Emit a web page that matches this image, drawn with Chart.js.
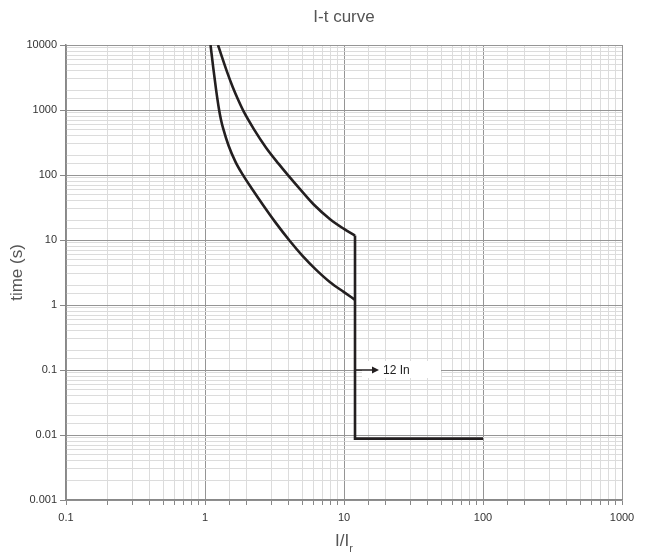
<!DOCTYPE html>
<html>
<head>
<meta charset="utf-8">
<script src="https://cdn.jsdelivr.net/npm/chart.js@4.4.1/dist/chart.umd.min.js"></script>
<style>
  html, body { margin: 0; padding: 0; background: #fff; }
  #wrap { width: 646px; height: 559px; position: relative; }
</style>
</head>
<body>
<div id="wrap"><canvas id="c"></canvas></div>
<script>
// I-t curve — trip characteristic, log/log

// upper (max trip time) curve, I/Ir vs seconds
var upperI = [1.24, 1.318, 1.445, 1.585, 1.738, 1.905, 2.24, 2.75, 3.39, 3.98, 4.79, 6.03, 7.94, 10, 12];
var upperT = [10000, 6760, 3800, 2240, 1410, 933, 513, 263, 148, 97.7, 61.7, 35.5, 20.9, 14.8, 11.7];

// lower (min trip time) curve
var lowerI = [1.096, 1.148, 1.202, 1.259, 1.303, 1.349, 1.479, 1.66, 1.888, 2.188, 2.63, 3.162, 4.093, 5.012, 6.31, 7.943, 10, 12];
var lowerT = [10000, 4370, 2040, 1047, 708, 525, 282, 158, 97.7, 60.3, 33.9, 19.5, 9.55, 5.75, 3.47, 2.24, 1.58, 1.2];

// instantaneous step at 12 In
var stepI = [12, 12, 100];
var stepT = [11.7, 0.0088, 0.0088];

var xMin = 0.1, xMax = 1000;
var yMin = 0.001, yMax = 10000;

var annotI = 12, annotT = 0.1, annotText = '12 In';

function _pts(xs, ys) {
  return xs.map(function (x, i) { return { x: x, y: ys[i] }; });
}

function _isDecade(v) {
  var l = Math.log10(v);
  return Math.abs(l - Math.round(l)) < 1e-6;
}

function _fmt(v) {
  var e = Math.round(Math.log10(v));
  return e < 0 ? Math.pow(10, e).toFixed(-e) : String(Math.pow(10, e));
}

var FONT = '"Liberation Sans", Arial, sans-serif';

var decorPlugin = {
  id: 'decor',
  afterDatasetsDraw: function (chart) {
    var ctx = chart.ctx;
    var xs = chart.scales.x, ys = chart.scales.y;
    var px = xs.getPixelForValue(annotI);
    var py = ys.getPixelForValue(annotT);
    ctx.save();
    // label box
    ctx.fillStyle = '#fff';
    ctx.fillRect(px + 7, py - 9, 79, 17);
    // arrow
    ctx.strokeStyle = '#231f20';
    ctx.fillStyle = '#231f20';
    ctx.lineWidth = 1.5;
    ctx.beginPath();
    ctx.moveTo(px, py);
    ctx.lineTo(px + 19, py);
    ctx.stroke();
    ctx.beginPath();
    ctx.moveTo(px + 24, py);
    ctx.lineTo(px + 17, py - 3.5);
    ctx.lineTo(px + 17, py + 3.5);
    ctx.closePath();
    ctx.fill();
    ctx.font = '12px ' + FONT;
    ctx.textBaseline = 'middle';
    ctx.textAlign = 'left';
    ctx.fillStyle = '#222';
    ctx.fillText(annotText, px + 28, py + 1);
    ctx.restore();
  },
  afterDraw: function (chart) {
    var ctx = chart.ctx;
    var a = chart.chartArea;
    var cx = (a.left + a.right) / 2;
    ctx.save();
    ctx.fillStyle = '#555';
    ctx.textAlign = 'center';
    ctx.textBaseline = 'middle';
    ctx.font = '17px ' + FONT;
    ctx.fillText('I-t curve', cx, 17);

    // y title
    ctx.save();
    ctx.translate(17, (a.top + a.bottom) / 2);
    ctx.rotate(-Math.PI / 2);
    ctx.font = '17px ' + FONT;
    ctx.fillText('time (s)', 0, 0);
    ctx.restore();

    // x title with subscript
    ctx.font = '17px ' + FONT;
    var main = 'I/I';
    var w1 = ctx.measureText(main).width;
    ctx.font = '11px ' + FONT;
    var w2 = ctx.measureText('r').width;
    var sx = cx - (w1 + w2) / 2;
    ctx.textAlign = 'left';
    ctx.font = '17px ' + FONT;
    ctx.fillText(main, sx, 541);
    ctx.font = '11px ' + FONT;
    ctx.fillText('r', sx + w1, 549);
    ctx.restore();
  }
};

function _gridColor(c) {
  if (!c.tick) return '#dcdcdc';
  return _isDecade(c.tick.value) ? '#959595' : '#dcdcdc';
}

var lineStyle = {
  borderColor: '#231f20',
  backgroundColor: '#231f20',
  borderWidth: 2.6,
  pointRadius: 0,
  fill: false
};

new Chart(document.getElementById('c'), {
  type: 'line',
  data: {
    datasets: [
      Object.assign({ label: 'upper', data: _pts(upperI, upperT), cubicInterpolationMode: 'monotone' }, lineStyle),
      Object.assign({ label: 'lower', data: _pts(lowerI, lowerT), cubicInterpolationMode: 'monotone' }, lineStyle),
      Object.assign({ label: 'step', data: _pts(stepI, stepT), tension: 0 }, lineStyle)
    ]
  },
  options: {
    responsive: true,
    maintainAspectRatio: false,
    animation: false,
    layout: { padding: { top: 45, right: 24, left: 0, bottom: 0 } },
    plugins: {
      legend: { display: false },
      tooltip: { enabled: false }
    },
    scales: {
      x: {
        type: 'logarithmic',
        min: xMin,
        max: xMax,
        afterFit: function (s) { s.height = 59; },
        grid: {
          color: _gridColor,
          tickColor: '#888',
          tickLength: 5,
          lineWidth: 1
        },
        border: { color: '#888', width: 1.5 },
        ticks: {
          autoSkip: false,
          maxRotation: 0,
          padding: 6,
          color: '#333',
          font: { size: 11, family: FONT },
          callback: function (v) { return _isDecade(v) ? _fmt(v) : ''; }
        }
      },
      y: {
        type: 'logarithmic',
        min: yMin,
        max: yMax,
        afterFit: function (s) { s.width = 66; },
        grid: {
          color: _gridColor,
          tickColor: function (c) { return c.tick && _isDecade(c.tick.value) ? '#888' : 'rgba(0,0,0,0)'; },
          tickLength: 6,
          lineWidth: 1
        },
        border: { color: '#888', width: 1.5 },
        ticks: {
          autoSkip: false,
          padding: 3,
          color: '#333',
          font: { size: 11, family: FONT },
          callback: function (v) { return _isDecade(v) ? _fmt(v) : ''; }
        }
      }
    }
  },
  plugins: [decorPlugin]
});
</script>
</body>
</html>
